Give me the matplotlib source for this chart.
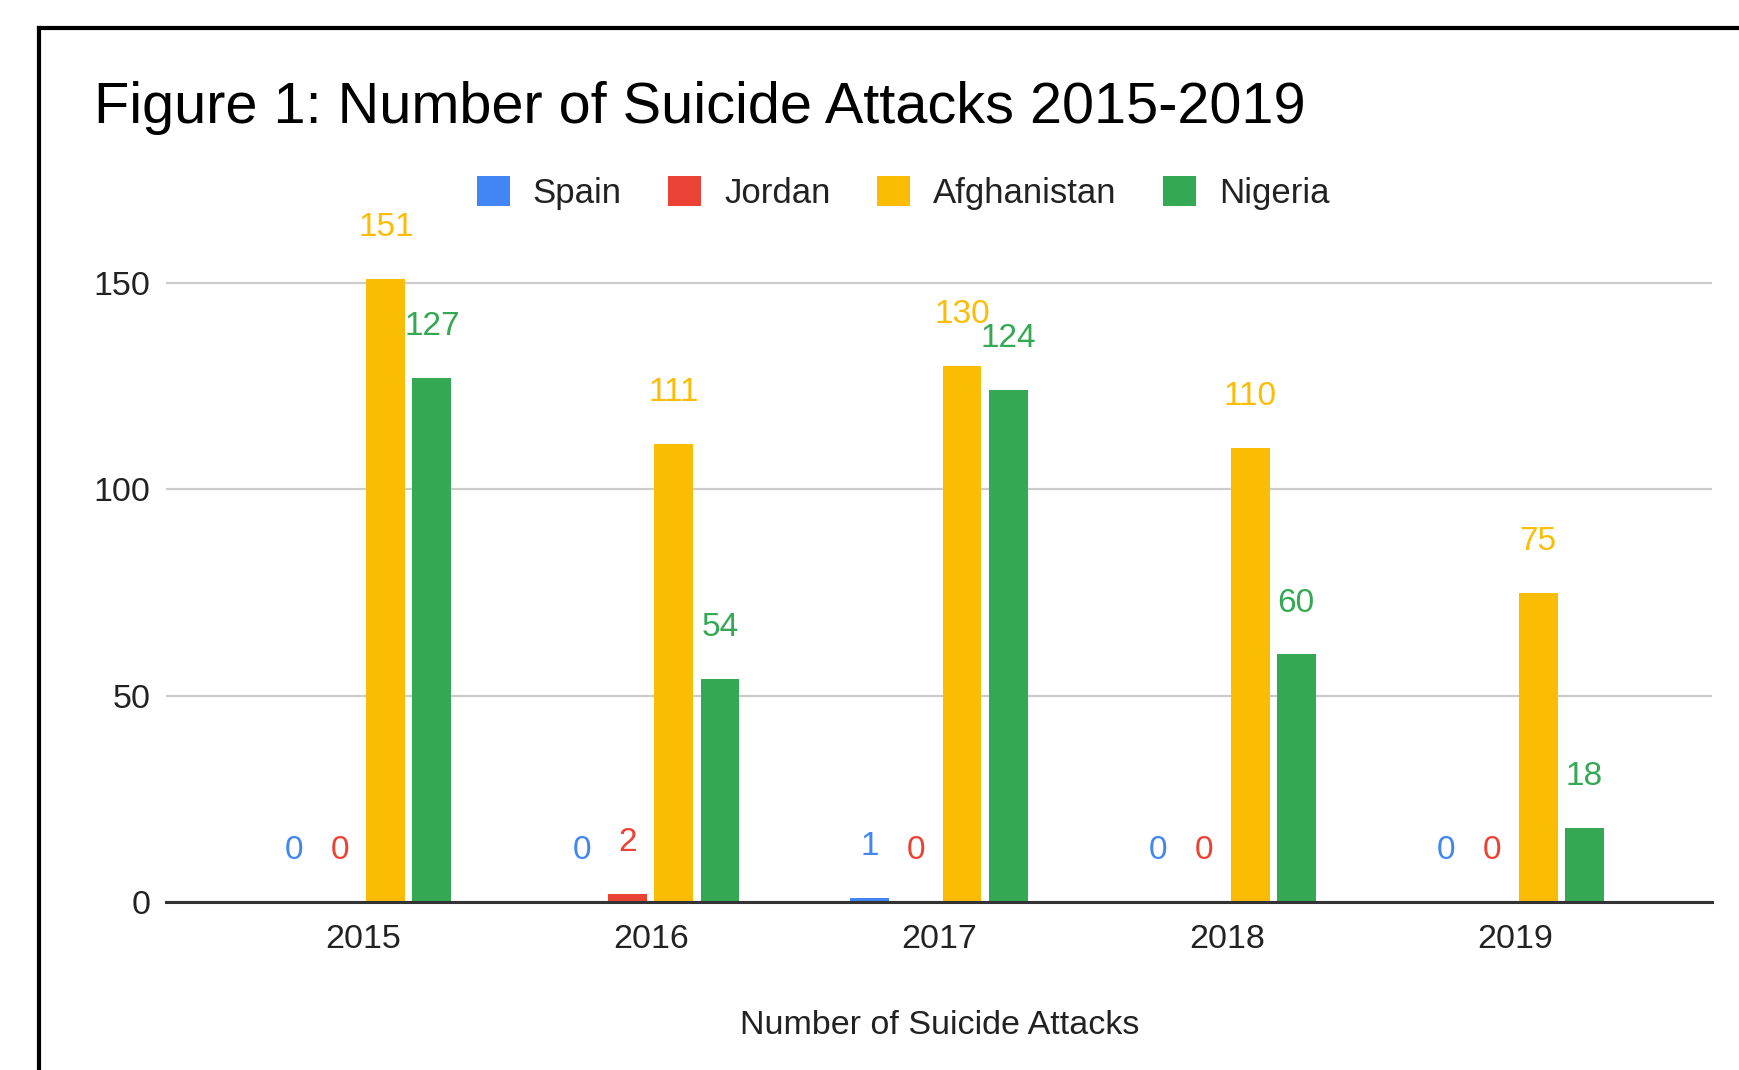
import matplotlib
matplotlib.use("Agg")
import matplotlib.pyplot as plt
from matplotlib.patches import Patch
from matplotlib.lines import Line2D
import numpy as np

plt.rcParams['font.family'] = ['Liberation Sans', 'DejaVu Sans']

years = ["2015", "2016", "2017", "2018", "2019"]
countries = ["Spain", "Jordan", "Afghanistan", "Nigeria"]
spain = [0, 0, 1, 0, 0]
jordan = [0, 2, 0, 0, 0]
afghanistan = [151, 111, 130, 110, 75]
nigeria = [127, 54, 124, 60, 18]
series = [spain, jordan, afghanistan, nigeria]
colors = ["#4285F4", "#EA4335", "#FBBC04", "#34A853"]
yticks = [0, 50, 100, 150]

W, H = 1740, 1070
fig = plt.figure(figsize=(W / 100, H / 100), dpi=100)
ax = fig.add_axes([166 / W, 168 / H, (1712 - 166) / W, 0.617])

x = np.arange(len(years))
step = 0.16
bw = 0.135
for i, (vals, c) in enumerate(zip(series, colors)):
    pos = x + (i - 1.5) * step
    ax.bar(pos, vals, width=bw, color=c, zorder=3)
    for p, v in zip(pos, vals):
        ax.annotate(str(v), xy=(p, v), xytext=(0, 37), textcoords='offset points',
                    ha='center', va='center', color=c, fontsize=24, zorder=4)

ax.set_xlim(-0.683, 4.683)
ax.set_ylim(0, 160)
ax.set_yticks(yticks)
ax.set_yticklabels([str(t) for t in yticks])
ax.set_xticks(x)
ax.set_xticklabels(years)
ax.tick_params(axis='both', length=0, labelsize=24.5, colors='#222222')
ax.tick_params(axis='y', pad=11)
ax.tick_params(axis='x', pad=16)
ax.grid(axis='y', color='#cccccc', linewidth=1.6, zorder=0)
for s in ['top', 'right', 'left']:
    ax.spines[s].set_visible(False)
ax.spines['bottom'].set_color('#333333')
ax.spines['bottom'].set_linewidth(2.2)
ax.spines['bottom'].set_zorder(5)

fig.text(940 / W, 1 - 1025 / H, "Number of Suicide Attacks", ha='center', va='center',
         fontsize=24.5, color='#222222')
fig.text(94 / W, 1 - 108 / H, "Figure 1: Number of Suicide Attacks 2015-2019", ha='left',
         va='center', fontsize=41.5, color='#000000')

handles = [Patch(facecolor=c, edgecolor='none', label=n) for c, n in zip(colors, countries)]
fig.legend(handles=handles, loc='center', bbox_to_anchor=(903 / W, 1 - 193 / H), ncol=4,
           frameon=False, fontsize=25, handlelength=0.95, handleheight=0.95,
           handletextpad=0.67, columnspacing=1.33, labelcolor='#222222')

# black frame (extends past right and bottom edges)
fig.add_artist(Line2D([39 / W, 1.01], [1 - 28 / H, 1 - 28 / H], transform=fig.transFigure,
                      color='black', linewidth=3.0))
fig.add_artist(Line2D([39 / W, 39 / W], [1 - 28 / H, -0.01], transform=fig.transFigure,
                      color='black', linewidth=3.0))

fig.savefig("out.png", dpi=100)
